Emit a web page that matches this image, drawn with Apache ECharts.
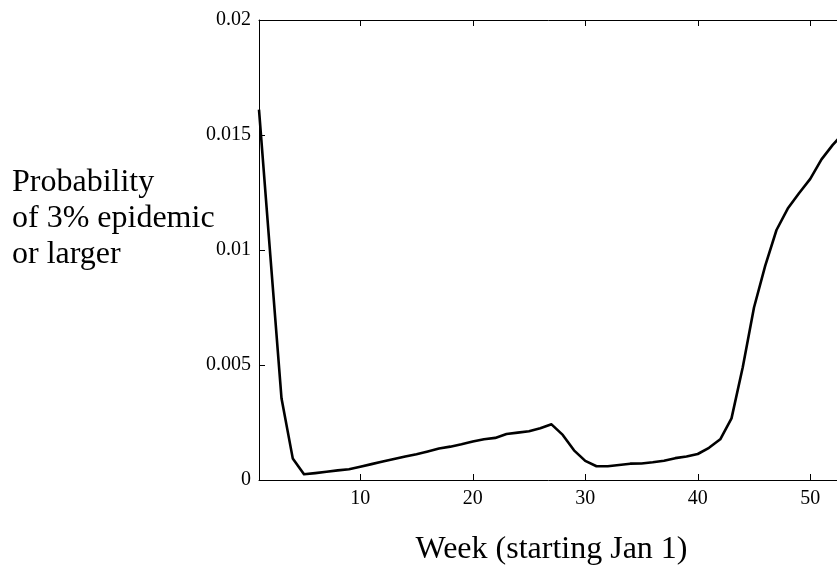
<!DOCTYPE html>
<html>
<head>
<meta charset="utf-8">
<script src="https://cdn.jsdelivr.net/npm/echarts@6/dist/echarts.min.js"></script>
<style>
  html, body { margin: 0; padding: 0; background: #ffffff; }
  #chart { width: 837px; height: 582px; }
</style>
</head>
<body>
<div id="chart"></div>
<script>
// Weekly probability of an epidemic reaching 3% or more
const weeks = [1, 2, 3, 4, 5, 6, 7, 8, 9, 10, 11, 12, 13, 14, 15, 16, 17, 18, 19, 20,
  21, 22, 23, 24, 25, 26, 27, 28, 29, 30, 31, 32, 33, 34, 35, 36, 37, 38, 39, 40,
  41, 42, 43, 44, 45, 46, 47, 48, 49, 50, 51, 52, 53];
const probability = [0.0161, 0.0098, 0.00355, 0.00094, 0.00025, 0.0003, 0.00036, 0.00042, 0.00047, 0.00058,
  0.00069, 0.0008, 0.00091, 0.00102, 0.00112, 0.00124, 0.00137, 0.00145, 0.00155, 0.00167,
  0.00177, 0.00183, 0.002, 0.00206, 0.00212, 0.00225, 0.00242, 0.00196, 0.00129, 0.00083,
  0.0006, 0.0006, 0.00065, 0.00071, 0.00072, 0.00077, 0.00084, 0.00095, 0.00102, 0.00113,
  0.0014, 0.00177, 0.00268, 0.0049, 0.0075, 0.00932, 0.01087, 0.0118, 0.01247, 0.01309,
  0.01394, 0.01457, 0.0151];
const xTicks = [10, 20, 30, 40, 50];
const yAxisTitle = ['Probability', 'of 3% epidemic', 'or larger'];
const xAxisTitle = 'Week (starting Jan 1)';

const serif = '"Liberation Serif", "Times New Roman", serif';
const chart = echarts.init(document.getElementById('chart'), null, { renderer: 'canvas' });

const axisLine = { show: true, onZero: false, lineStyle: { color: '#000', width: 1 } };
const innerTick = { show: true, inside: true, length: 6, lineStyle: { color: '#000', width: 1 } };

chart.setOption({
  backgroundColor: '#ffffff',
  animation: false,
  grid: { left: 259, right: -7, top: 20, bottom: 102, containLabel: false, outerBoundsMode: 'none' },
  graphic: [{
    type: 'text',
    left: 12,
    top: 165,
    style: {
      text: yAxisTitle.join('\n'),
      font: '32px ' + serif,
      lineHeight: 36,
      fill: '#000'
    }
  }],
  xAxis: [{
    type: 'value',
    min: 1,
    max: 53,
    position: 'bottom',
    name: xAxisTitle,
    nameLocation: 'middle',
    nameGap: 54,
    nameTextStyle: { fontFamily: serif, fontSize: 32, color: '#000' },
    axisLine: axisLine,
    axisTick: Object.assign({ customValues: xTicks }, innerTick),
    axisLabel: { customValues: xTicks, margin: 9, fontFamily: serif, fontSize: 20, color: '#000' },
    splitLine: { show: false }
  }, {
    type: 'value',
    min: 1,
    max: 53,
    position: 'top',
    axisLine: axisLine,
    axisTick: Object.assign({ customValues: xTicks }, innerTick),
    axisLabel: { show: false },
    splitLine: { show: false }
  }],
  yAxis: [{
    type: 'value',
    min: 0,
    max: 0.02,
    interval: 0.005,
    position: 'left',
    axisLine: axisLine,
    axisTick: innerTick,
    axisLabel: { margin: 8, fontFamily: serif, fontSize: 20, color: '#000' },
    splitLine: { show: false }
  }, {
    type: 'value',
    min: 0,
    max: 0.02,
    interval: 0.005,
    position: 'right',
    axisLine: axisLine,
    axisTick: innerTick,
    axisLabel: { show: false },
    splitLine: { show: false }
  }],
  series: [{
    type: 'line',
    xAxisIndex: 0,
    yAxisIndex: 0,
    data: weeks.map((w, i) => [w, probability[i]]),
    showSymbol: false,
    symbol: 'none',
    lineStyle: { color: '#000', width: 2.6, join: 'round' },
    clip: false
  }]
});
</script>
</body>
</html>
